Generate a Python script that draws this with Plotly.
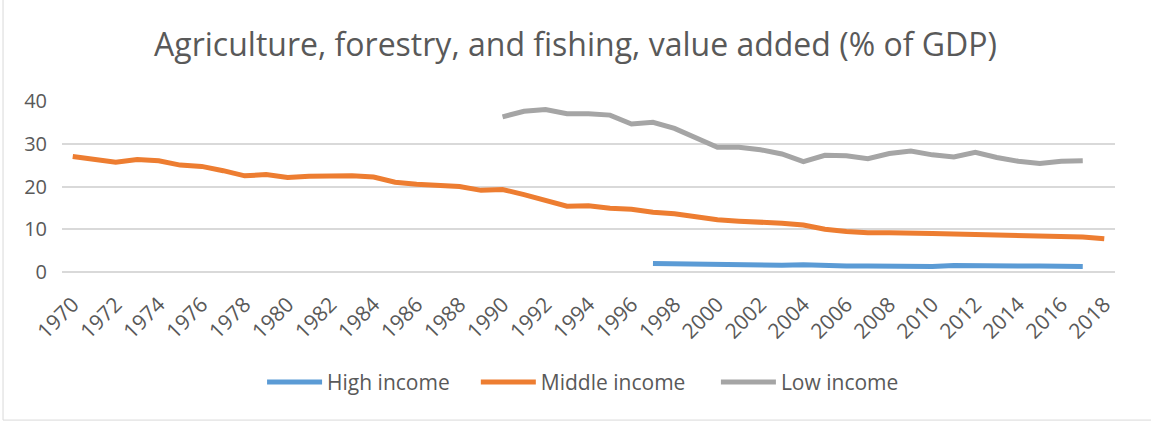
import plotly.graph_objects as go

high_years = list(range(1997, 2018))
high_income = [2.0, 1.9, 1.8, 1.7, 1.7, 1.6, 1.6, 1.7, 1.5, 1.4, 1.4,
               1.3, 1.3, 1.3, 1.5, 1.4, 1.5, 1.4, 1.4, 1.3, 1.3]

middle_years = list(range(1970, 2019))
middle_income = [27.0, 26.4, 25.7, 26.3, 26.0, 25.0, 24.7, 23.7, 22.5, 22.8,
                 22.1, 22.4, 22.4, 22.5, 22.2, 21.0, 20.5, 20.2, 20.0, 19.1,
                 19.3, 18.1, 16.6, 15.4, 15.5, 14.9, 14.7, 14.0, 13.6, 13.0,
                 12.2, 11.9, 11.7, 11.4, 11.0, 10.0, 9.5, 9.2, 9.2, 9.2,
                 9.0, 8.9, 8.8, 8.8, 8.7, 8.6, 8.5, 8.2, 7.8]

low_years = list(range(1990, 2018))
low_income = [36.3, 37.6, 38.0, 37.0, 37.0, 36.7, 34.6, 35.0, 33.6, 31.5,
              29.2, 29.2, 28.6, 27.6, 25.8, 27.3, 27.2, 26.5, 27.7, 28.3,
              27.4, 26.9, 28.0, 26.8, 25.9, 25.4, 25.9, 26.0]

title = "Agriculture, forestry, and fishing, value added (% of GDP)"
tick_years = list(range(1970, 2019, 2))
y_ticks = [0, 10, 20, 30, 40]

font_family = "Open Sans"
txt = "#595959"

fig = go.Figure()
fig.add_trace(go.Scatter(x=high_years, y=high_income, name="High income",
                         mode="lines", line=dict(color="#5B9BD5", width=5),
                         legend="legend"))
fig.add_trace(go.Scatter(x=middle_years, y=middle_income, name="Middle income",
                         mode="lines", line=dict(color="#ED7D31", width=5),
                         legend="legend2"))
fig.add_trace(go.Scatter(x=low_years, y=low_income, name="Low income",
                         mode="lines", line=dict(color="#A5A5A5", width=5),
                         legend="legend3"))


def leg(x):
    return dict(orientation="h", x=x, xanchor="left", y=-0.645, yanchor="middle",
                font=dict(family=font_family, size=21, color=txt),
                itemwidth=55, bgcolor="rgba(0,0,0,0)")


fig.update_layout(
    width=1151, height=421,
    margin=dict(l=62, r=36, t=101, b=149),
    paper_bgcolor="white", plot_bgcolor="white",
    title=dict(text=title, x=0.5, xanchor="center", y=0.893, yanchor="middle",
               font=dict(family=font_family, size=32, color=txt)),
    font=dict(family=font_family, color=txt),
    showlegend=True,
    legend=leg(0.190),
    legend2=leg(0.393),
    legend3=leg(0.621),
    shapes=[dict(type="rect", xref="paper", yref="paper",
                 x0=-0.056, x1=1.05, y0=-0.866, y1=1.75,
                 line=dict(color="#D9D9D9", width=1), layer="below")],
)
fig.update_xaxes(range=[1969.5, 2018.5], tickmode="array", tickvals=tick_years,
                 ticktext=[str(y) for y in tick_years], tickangle=-45,
                 showgrid=False, zeroline=False, showline=False,
                 ticklabelstandoff=15,
                 tickfont=dict(size=21, color=txt, family=font_family))
fig.update_yaxes(range=[0, 40], tickmode="array", tickvals=y_ticks,
                 showgrid=True, gridcolor="#D9D9D9",
                 gridwidth=1.5, zeroline=True, zerolinecolor="#D9D9D9", zerolinewidth=1.5,
                 showline=False, ticks="", ticklabelstandoff=14,
                 tickfont=dict(size=20, color=txt, family=font_family))

fig.write_html("out.html", config={"displayModeBar": False},
               post_script="document.body.style.margin='0';document.body.style.overflow='hidden';")
